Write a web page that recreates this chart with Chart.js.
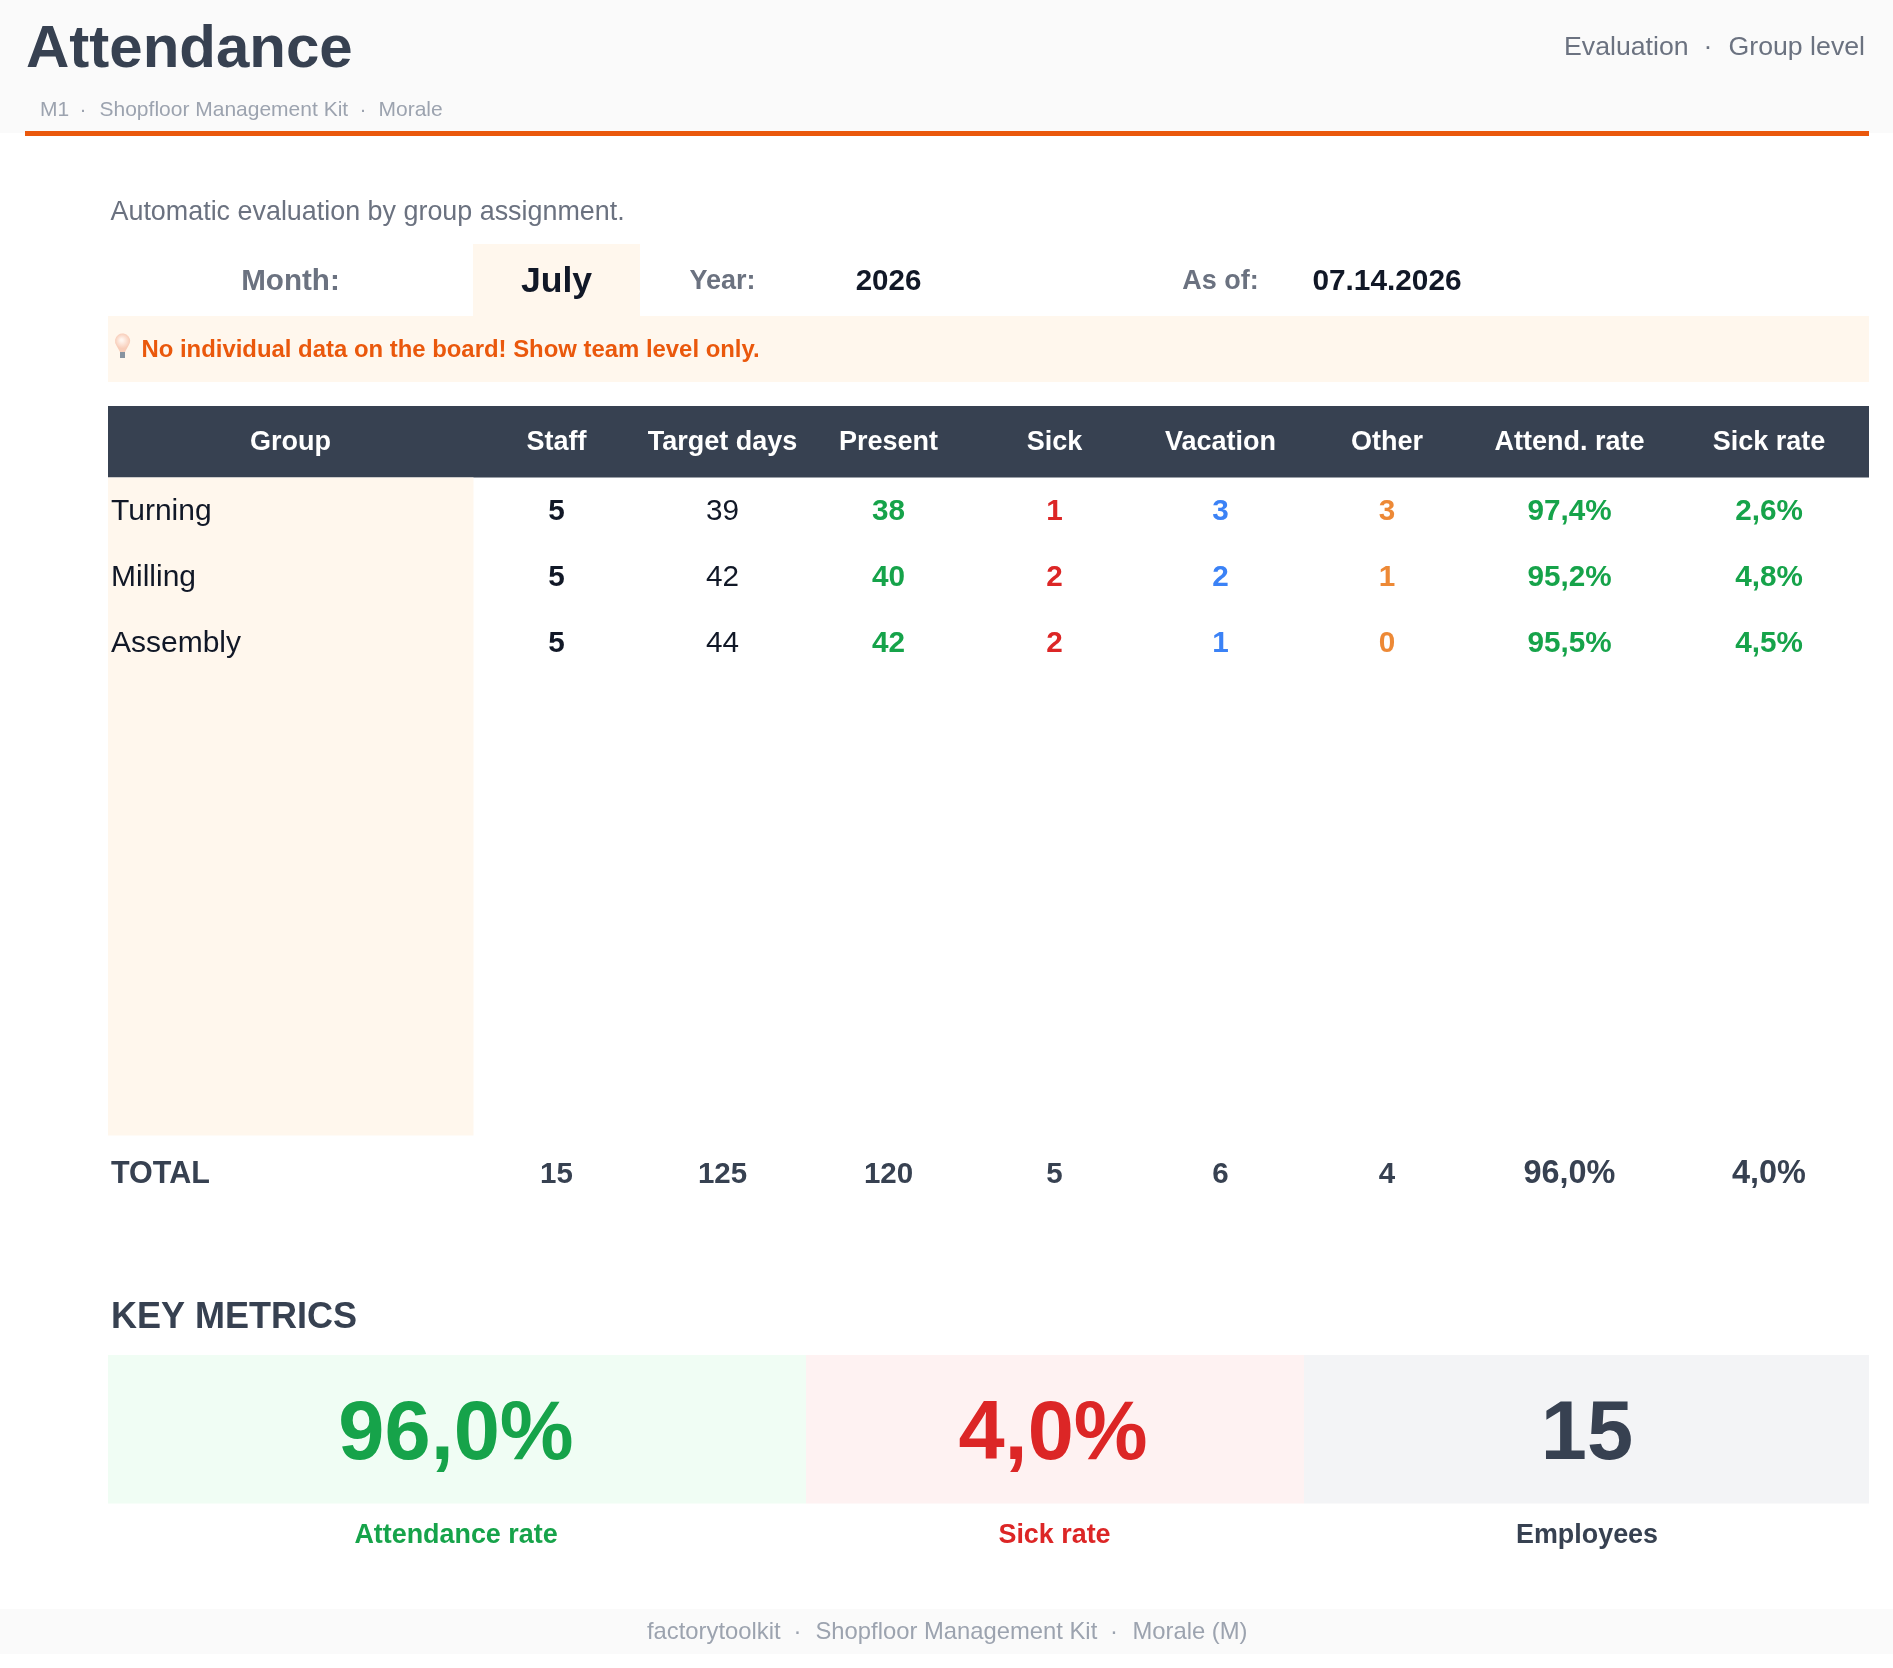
<!DOCTYPE html>
<html>
<head>
<meta charset="utf-8">
<title>Attendance</title>
<script src="https://cdn.jsdelivr.net/npm/chart.js@4/dist/chart.umd.min.js"></script>
<style>
  html, body { margin: 0; padding: 0; background: #fff; }
  canvas { display: block; }
</style>
</head>
<body>
<canvas id="sheet" width="1893" height="1668"></canvas>
<script>
// table data
const groups     = ['Turning', 'Milling', 'Assembly'];
const staff      = [5, 5, 5];
const targetDays = [39, 42, 44];
const present    = [38, 40, 42];
const sick       = [1, 2, 2];
const vacation   = [3, 2, 1];
const other      = [3, 1, 0];
const attendRate = [97.4, 95.2, 95.5];
const sickRate   = [2.6, 4.8, 4.5];
const totals     = ['TOTAL', 15, 125, 120, 5, 6, 4, 96.0, 4.0];
const headers    = ['Group', 'Staff', 'Target days', 'Present', 'Sick', 'Vacation', 'Other', 'Attend. rate', 'Sick rate'];

const kpiValues = [96.0, 4.0, 15];
const kpiLabels = ['Attendance rate', 'Sick rate', 'Employees'];

const month = 'July', year = '2026', asOf = '07.14.2026';

// layout
const PAGE_W = 1893, PAGE_H = 1668;
const FONT = '"Liberation Sans", Arial, sans-serif';
const SLATE = '#374151', GREY = '#6b7280', LIGHT = '#9ca3af', INK = '#111827';
const ORANGE = '#ea580c', PEACH = '#fff7ed', BAND = '#fafafa';
const GREEN = '#16a34a', RED = '#dc2626', BLUE = '#3b82f6', AMBER = '#ed8936';

const colCenters = [290.5, 556.5, 722.5, 888.5, 1054.5, 1220.5, 1387, 1569.5, 1769];
const ROW_TOP = 520, ROW_STEP = 65.8, TOTAL_ROW = 10.07;

const pct = v => v.toFixed(1).replace('.', ',') + '%';

function column(i, values, weight, color) {
  return { i, values, weight, color };
}

const columns = [
  column(0, groups, 'normal', INK),
  column(1, staff, 'bold', INK),
  column(2, targetDays, 'normal', INK),
  column(3, present, 'bold', GREEN),
  column(4, sick, 'bold', RED),
  column(5, vacation, 'bold', BLUE),
  column(6, other, 'bold', AMBER),
  column(7, attendRate.map(pct), 'bold', GREEN),
  column(8, sickRate.map(pct), 'bold', GREEN),
];

const totalTexts = totals.map((v, i) => i >= 7 ? pct(v) : String(v));

// every column is a hidden scatter series, the cell text sits on its points
const datasets = columns.map(c => ({
  label: headers[c.i],
  xAxisID: 'x',
  yAxisID: 'row',
  pointRadius: 0,
  data: c.values.map((v, r) => ({ x: c.i === 0 ? 111 : colCenters[c.i], y: r }))
    .concat([{ x: c.i === 0 ? 111 : colCenters[c.i], y: TOTAL_ROW }]),
  cells: c.values.map(String).concat([totalTexts[c.i]]),
  weight: c.weight,
  color: c.color,
  align: c.i === 0 ? 'left' : 'center',
}));

const boxes = [
  [0, 0, PAGE_W, 133, BAND],
  [25, 131, 1869, 136, ORANGE],
  [473, 244, 640, 316, PEACH],
  [108, 316, 1869, 382, PEACH],
  [108, 406, 1869, 477.5, SLATE],
  [108, 477.5, 473.5, 1135.5, PEACH],
  [108, 1355, 806, 1503.5, '#f0fdf4'],
  [806, 1355, 1304, 1503.5, '#fef2f2'],
  [1304, 1355, 1869, 1503.5, '#f3f4f6'],
  [0, 1609, PAGE_W, 1654, BAND],
];

const labels = [
  ['Attendance', 26, 67, 'bold 60px', SLATE, 'left'],
  ['M1', 40, 116, '21px', LIGHT, 'left'],
  ['·', 83, 116, '21px', LIGHT, 'center'],
  ['Shopfloor Management Kit', 99.5, 116, '21px', LIGHT, 'left'],
  ['·', 363, 116, '21px', LIGHT, 'center'],
  ['Morale', 378.5, 116, '21px', LIGHT, 'left'],
  ['Evaluation', 1564, 55, '26.7px', GREY, 'left'],
  ['·', 1708, 55, '26.7px', GREY, 'center'],
  ['Group level', 1865, 55, '26.7px', GREY, 'right'],
  ['Automatic evaluation by group assignment.', 110.5, 220, '26.9px', GREY, 'left'],
  ['Month:', 290.5, 290, 'bold 29.6px', GREY, 'center'],
  [month, 556.5, 291.5, 'bold 35.6px', INK, 'center'],
  ['Year:', 722.5, 289, 'bold 27px', GREY, 'center'],
  [year, 888.5, 290, 'bold 29.5px', INK, 'center'],
  ['As of:', 1220.5, 289, 'bold 27px', GREY, 'center'],
  [asOf, 1387, 290, 'bold 29.8px', INK, 'center'],
  ['No individual data on the board! Show team level only.', 141.5, 357, 'bold 23.9px', ORANGE, 'left'],
  ['KEY METRICS', 111, 1327.5, 'bold 36px', SLATE, 'left'],
  [pct(kpiValues[0]), 456, 1458.5, 'bold 83px', GREEN, 'center'],
  [pct(kpiValues[1]), 1053, 1458.5, 'bold 83px', RED, 'center'],
  [String(kpiValues[2]), 1587, 1458.5, 'bold 83px', SLATE, 'center'],
  [kpiLabels[0], 456, 1543, 'bold 26.9px', GREEN, 'center'],
  [kpiLabels[1], 1054.5, 1543, 'bold 26.9px', RED, 'center'],
  [kpiLabels[2], 1587, 1543, 'bold 26.9px', SLATE, 'center'],
  ['factorytoolkit', 647, 1639, '23.8px', LIGHT, 'left'],
  ['·', 797.5, 1639, '23.8px', LIGHT, 'center'],
  ['Shopfloor Management Kit', 815.5, 1639, '23.8px', LIGHT, 'left'],
  ['·', 1114, 1639, '23.8px', LIGHT, 'center'],
  ['Morale (M)', 1132.5, 1639, '23.8px', LIGHT, 'left'],
];

function put(ctx, text, x, y, font, color, align) {
  ctx.font = font + ' ' + FONT;
  ctx.fillStyle = color;
  ctx.textAlign = align;
  ctx.textBaseline = 'alphabetic';
  ctx.fillText(text, x, y);
}

function drawBulb(ctx, sx, sy) {
  const cx = sx(122.5), cy = sy(341), r = 7.5;
  const glow = ctx.createRadialGradient(cx - 1, cy - 1, 1, cx, cy, r);
  glow.addColorStop(0, '#fff6f0');
  glow.addColorStop(1, '#f8cdb9');
  ctx.beginPath();
  ctx.arc(cx, cy, r, Math.PI * 0.8, Math.PI * 0.2);
  ctx.lineTo(cx + 2.5, sy(352));
  ctx.lineTo(cx - 2.5, sy(352));
  ctx.closePath();
  ctx.fillStyle = glow;
  ctx.fill();
  ctx.fillStyle = '#8793a0';
  ctx.fillRect(cx - 2.5, sy(352), 5, 6);
}

const sheetPlugin = {
  id: 'sheet',
  beforeDatasetsDraw(chart) {
    const { ctx, scales } = chart;
    const sx = v => scales.x.getPixelForValue(v), sy = v => scales.y.getPixelForValue(v);
    ctx.save();
    ctx.fillStyle = '#fff';
    ctx.fillRect(0, 0, PAGE_W, PAGE_H);
    boxes.forEach(b => {
      ctx.fillStyle = b[4];
      ctx.fillRect(sx(b[0]), sy(b[1]), sx(b[2]) - sx(b[0]), sy(b[3]) - sy(b[1]));
    });
    drawBulb(ctx, sx, sy);
    ctx.restore();
  },
  afterDatasetsDraw(chart) {
    const { ctx, scales } = chart;
    const sx = v => scales.x.getPixelForValue(v), sy = v => scales.y.getPixelForValue(v);
    ctx.save();
    labels.forEach(l => put(ctx, l[0], sx(l[1]), sy(l[2]), l[3], l[4], l[5]));
    chart.data.datasets.forEach((ds, d) => {
      put(ctx, ds.label, sx(colCenters[d]), sy(449.5), 'bold 27px', '#fff', 'center');
      chart.getDatasetMeta(d).data.forEach((pt, r) => {
        const isTotal = r === ds.cells.length - 1;
        if (isTotal) {
          const size = d >= 7 ? '32.4px' : d === 0 ? '30.5px' : '29.5px';
          put(ctx, ds.cells[r], pt.x, pt.y, 'bold ' + size, SLATE, ds.align);
        } else {
          const size = d === 0 ? '30px' : '29.7px';
          put(ctx, ds.cells[r], pt.x, pt.y, (ds.weight === 'bold' ? 'bold ' : '') + size, ds.color, ds.align);
        }
      });
    });
    ctx.restore();
  }
};

new Chart(document.getElementById('sheet'), {
  type: 'scatter',
  data: { datasets },
  options: {
    responsive: false,
    animation: false,
    devicePixelRatio: 1,
    layout: { padding: 0 },
    plugins: { legend: { display: false }, tooltip: { enabled: false } },
    scales: {
      x: { type: 'linear', display: false, min: 0, max: PAGE_W },
      y: { type: 'linear', display: false, min: 0, max: PAGE_H, reverse: true },
      // one unit is one table row
      row: {
        axis: 'y', type: 'linear', display: false, reverse: true,
        min: (0 - ROW_TOP) / ROW_STEP,
        max: (PAGE_H - ROW_TOP) / ROW_STEP,
      },
    }
  },
  plugins: [sheetPlugin]
});
</script>
</body>
</html>
